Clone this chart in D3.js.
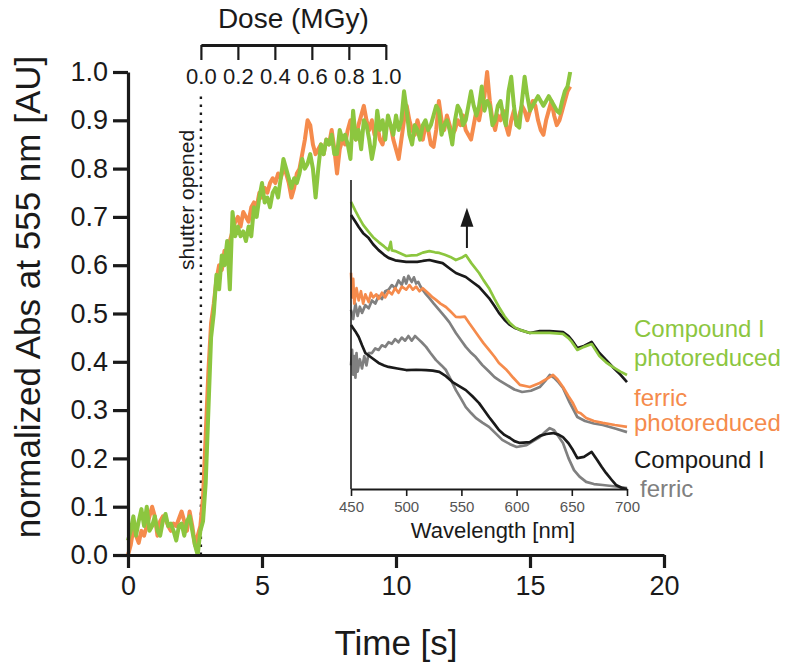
<!DOCTYPE html>
<html><head><meta charset="utf-8">
<script src="https://cdn.jsdelivr.net/npm/d3@7"></script>
<style>
html,body{margin:0;padding:0;background:#fff;}
svg{display:block;font-family:"Liberation Sans",Arial,Helvetica,sans-serif;}
</style></head>
<body><svg id="chart" width="798" height="671"></svg>
<script>
// ---------------- DATA ----------------
// Main kinetic traces: normalized Abs at 555 nm, sampled every SAMPLE_DT seconds starting at 0 s
const SAMPLE_DT = 0.1;
const ferricPhotoreduced = [
0.00,0.02,0.055,0.04,0.025,0.05,0.04,0.06,0.08,0.10,
0.08,0.04,0.07,0.08,0.075,0.06,0.05,0.065,0.06,0.075,
0.09,0.07,0.05,0.09,0.06,0.02,0.04,0.06,0.12,0.25,
0.38,0.48,0.52,0.57,0.60,0.59,0.63,0.62,0.65,0.67,
0.69,0.70,0.68,0.71,0.70,0.69,0.72,0.73,0.72,0.75,
0.74,0.76,0.75,0.77,0.78,0.77,0.79,0.78,0.80,0.79,
0.77,0.74,0.76,0.79,0.80,0.83,0.86,0.90,0.89,0.85,
0.83,0.84,0.85,0.83,0.86,0.85,0.88,0.84,0.79,0.84,
0.86,0.85,0.88,0.90,0.87,0.86,0.89,0.91,0.93,0.90,
0.88,0.90,0.87,0.89,0.86,0.85,0.88,0.90,0.89,0.86,
0.84,0.82,0.86,0.90,0.93,0.90,0.88,0.87,0.90,0.88,
0.86,0.89,0.88,0.85,0.845,0.88,0.94,0.90,0.88,0.91,
0.89,0.87,0.88,0.90,0.89,0.91,0.88,0.87,0.86,0.89,
0.92,0.90,0.93,0.95,1.00,0.94,0.90,0.88,0.91,0.90,
0.92,0.89,0.87,0.90,0.92,0.89,0.91,0.93,0.92,0.90,
0.92,0.94,0.93,0.90,0.88,0.87,0.90,0.92,0.94,0.91,
0.89,0.90,0.92,0.94,0.96,0.97];
const compoundIPhotoreduced = [
0.03,0.05,0.08,0.04,0.07,0.095,0.06,0.10,0.05,0.06,
0.08,0.05,0.04,0.07,0.085,0.06,0.065,0.05,0.03,0.06,
0.065,0.04,0.07,0.08,0.05,0.02,0.00,0.05,0.07,0.15,
0.30,0.45,0.50,0.58,0.55,0.62,0.60,0.65,0.55,0.71,
0.66,0.68,0.66,0.67,0.65,0.68,0.66,0.72,0.70,0.74,
0.77,0.73,0.74,0.72,0.75,0.76,0.74,0.78,0.82,0.80,
0.78,0.76,0.78,0.77,0.79,0.82,0.80,0.81,0.83,0.80,
0.74,0.80,0.85,0.83,0.86,0.85,0.87,0.83,0.83,0.88,
0.86,0.87,0.85,0.82,0.92,0.86,0.88,0.84,0.90,0.89,
0.86,0.82,0.85,0.92,0.88,0.90,0.86,0.91,0.89,0.87,
0.91,0.88,0.90,0.96,0.92,0.87,0.85,0.89,0.88,0.86,
0.89,0.90,0.88,0.89,0.91,0.93,0.92,0.87,0.89,0.90,
0.88,0.85,0.90,0.93,0.92,0.89,0.90,0.93,0.96,0.93,
0.91,0.93,0.97,0.92,0.94,0.93,0.89,0.90,0.93,0.94,
0.91,0.89,0.96,0.99,0.93,0.89,0.885,0.94,0.99,0.95,
0.92,0.93,0.94,0.95,0.94,0.93,0.94,0.95,0.94,0.93,
0.92,0.915,0.94,0.96,0.97,1.00];

const timeTicks = [0, 5, 10, 15, 20];
const absTicks = [0, 0.1, 0.2, 0.3, 0.4, 0.5, 0.6, 0.7, 0.8, 0.9, 1.0];
const doseTicks = [0, 0.2, 0.4, 0.6, 0.8, 1.0];
const shutterOpenTime = 2.72;   // s
const doseOneMGyTime = 9.62;    // s, time at which 1.0 MGy is reached

// Inset spectra: [wavelength nm, normalized absorbance (offset)]
const specCpdIPhotoreduced = [[450,.929],[454,.90],[457,.880],[461,.855],[466,.832],[470,.815],[475,.799],[480,.785],[484,.773],[486,.80],[487,.772],[490,.770],[495,.762],[500,.754],[505,.756],[510,.757],[515,.765],[521,.770],[526,.766],[530,.764],[535,.758],[540,.751],[545,.741],[550,.748],[554,.757],[559,.731],[566,.699],[570,.676],[575,.650],[580,.615],[584,.589],[589,.560],[594,.537],[598,.524],[603,.515],[612,.505],[621,.505],[630,.505],[642,.502],[647,.488],[650,.476],[655,.450],[661,.460],[668,.469],[675,.430],[681,.410],[687,.395],[694,.380],[700,.369]];
const specCpdITop = [[450,.887],[454,.865],[457,.848],[461,.828],[466,.812],[470,.792],[475,.773],[480,.758],[484,.748],[490,.740],[500,.735],[510,.735],[515,.738],[521,.741],[527,.736],[533,.731],[540,.712],[545,.699],[550,.692],[554,.686],[560,.670],[566,.654],[570,.638],[575,.618],[580,.592],[584,.570],[589,.548],[594,.531],[598,.522],[603,.515],[612,.505],[621,.511],[630,.511],[642,.508],[647,.495],[650,.482],[655,.456],[661,.463],[668,.476],[675,.440],[681,.418],[687,.395],[694,.370],[700,.346]];
const specFerricPhotoreduced = [[450,.70],[451,.62],[452,.68],[453,.60],[455,.65],[457,.61],[459,.64],[461,.60],[463,.63],[466,.605],[468,.635],[470,.62],[473,.63],[475,.615],[478,.635],[481,.62],[484,.64],[487,.63],[490,.65],[493,.635],[496,.655],[500,.645],[503,.66],[506,.645],[509,.655],[512,.64],[515,.65],[518,.64],[521,.63],[524,.62],[527,.612],[531,.60],[536,.589],[540,.575],[545,.557],[549,.556],[553,.558],[557,.537],[562,.512],[566,.492],[570,.472],[575,.45],[580,.428],[584,.408],[591,.385],[597,.36],[603,.337],[612,.33],[621,.343],[630,.362],[633,.369],[637,.355],[642,.33],[647,.30],[651,.278],[655,.249],[658,.245],[663,.23],[670,.22],[678,.214],[689,.207],[700,.201]];
const specFerricTop = [[450,.58],[452,.55],[454,.60],[456,.56],[458,.59],[460,.57],[463,.595],[466,.585],[469,.61],[472,.60],[475,.625],[478,.615],[481,.64],[484,.645],[487,.66],[490,.65],[493,.675],[496,.66],[498,.685],[500,.665],[502,.69],[505,.67],[507,.685],[509,.665],[511,.67],[513,.655],[515,.644],[518,.63],[521,.618],[525,.60],[530,.579],[535,.558],[539,.54],[545,.505],[550,.48],[554,.46],[559,.44],[563,.427],[569,.401],[575,.38],[580,.362],[585,.35],[591,.337],[598,.322],[605,.314],[613,.318],[621,.33],[626,.35],[630,.369],[634,.36],[638,.345],[642,.327],[648,.28],[655,.233],[662,.22],[670,.212],[678,.207],[690,.195],[700,.184]];
const specCpdI = [[450,.531],[454,.51],[457,.492],[460,.465],[463,.440],[469,.424],[475,.408],[480,.40],[484,.395],[492,.39],[500,.385],[509,.386],[518,.385],[524,.383],[530,.379],[536,.365],[542,.346],[548,.333],[554,.320],[560,.300],[566,.278],[570,.258],[575,.233],[580,.210],[584,.191],[589,.175],[594,.165],[598,.155],[603,.149],[612,.152],[621,.172],[627,.178],[633,.181],[638,.176],[642,.168],[647,.148],[651,.126],[655,.100],[661,.104],[668,.120],[673,.094],[677,.072],[681,.052],[686,.030],[690,.013],[695,.004],[700,.000]];
const specFerric = [[450,.40],[451,.45],[452,.37],[453,.43],[454,.36],[455,.44],[456,.38],[458,.42],[460,.39],[462,.43],[464,.40],[466,.44],[469,.44],[472,.455],[475,.45],[478,.465],[481,.46],[484,.475],[487,.47],[490,.485],[493,.475],[496,.49],[499,.48],[502,.495],[505,.48],[508,.495],[511,.485],[514,.475],[518,.46],[522,.44],[527,.417],[532,.40],[536,.385],[541,.35],[545,.32],[550,.29],[554,.265],[559,.245],[563,.23],[569,.215],[575,.201],[581,.18],[587,.159],[594,.145],[600,.136],[609,.142],[615,.155],[621,.168],[626,.185],[630,.197],[634,.19],[638,.17],[642,.149],[647,.10],[652,.061],[657,.04],[663,.023],[670,.016],[678,.013],[690,.008],[700,.003]];
const wavelengthTicks = [450, 500, 550, 600, 650, 700];
const arrowWavelength = 555, arrowFrom = 0.78, arrowTo = 0.91;

const legendItems = [
  {lines:["Compound I","photoreduced"], color:"#8cc63f"},
  {lines:["ferric","photoreduced"], color:"#f58b4c"},
  {lines:["Compound I"], color:"#1a1a1a"},
  {lines:["ferric"], color:"#808080"}
];

// ---------------- CHART ----------------
const ORANGE = "#f58b4c", GREEN = "#8cc63f", BLACK = "#1a1a1a", GRAY = "#808080";
const FONT = "Liberation Sans, Arial, sans-serif";
const svg = d3.select("#chart");

const x = d3.scaleLinear().domain([0, 20]).range([128, 664]);
const y = d3.scaleLinear().domain([0, 1]).range([555, 72]);
const dose = d3.scaleLinear().domain([0, 1]).range([x(shutterOpenTime), x(doseOneMGyTime)]);

// shutter line
svg.append("line")
  .attr("x1", x(shutterOpenTime)).attr("x2", x(shutterOpenTime))
  .attr("y1", y(0)).attr("y2", y(0.95))
  .attr("stroke", BLACK).attr("stroke-width", 2.4)
  .attr("stroke-dasharray", "2.4,5.6");
svg.append("text")
  .attr("transform", `translate(${x(shutterOpenTime) - 7},200) rotate(-90)`)
  .attr("text-anchor", "middle").attr("font-size", 21).attr("fill", BLACK)
  .text("shutter opened");

// main lines
const line = d3.line().x((d, i) => x(i * SAMPLE_DT)).y(d => y(d)).curve(d3.curveLinear);
svg.append("path").datum(ferricPhotoreduced).attr("d", line)
  .attr("fill", "none").attr("stroke", ORANGE).attr("stroke-width", 4).attr("stroke-linejoin", "round");
svg.append("path").datum(compoundIPhotoreduced).attr("d", line)
  .attr("fill", "none").attr("stroke", GREEN).attr("stroke-width", 4).attr("stroke-linejoin", "round");

// main axes
const yAxis = d3.axisLeft(y).tickValues(absTicks).tickFormat(d3.format(".1f"))
  .tickSize(15).tickSizeOuter(0).tickPadding(5);
const gy = svg.append("g").attr("transform", `translate(${x(0)},0)`).call(yAxis);
const xAxis = d3.axisBottom(x).tickValues(timeTicks).tickFormat(d3.format("d"))
  .tickSize(13).tickSizeOuter(0).tickPadding(8);
const gx = svg.append("g").attr("transform", `translate(0,${y(0)})`).call(xAxis);
[gx, gy].forEach(g => {
  g.select(".domain").attr("stroke", BLACK).attr("stroke-width", 3.2);
  g.selectAll(".tick line").attr("stroke", BLACK).attr("stroke-width", 3.2);
  g.selectAll(".tick text").attr("font-size", 27).attr("fill", BLACK).attr("font-family", FONT);
});

// dose axis
const doseAxis = d3.axisBottom(dose).tickValues(doseTicks).tickFormat(d3.format(".1f"))
  .tickSize(15).tickSizeOuter(0).tickPadding(8);
const gd = svg.append("g").attr("transform", "translate(0,45)").call(doseAxis);
gd.select(".domain").attr("stroke", BLACK).attr("stroke-width", 2.8);
gd.selectAll(".tick line").attr("stroke", BLACK).attr("stroke-width", 2.2);
gd.selectAll(".tick text").attr("font-size", 22).attr("fill", BLACK).attr("font-family", FONT);
svg.append("text").attr("x", (dose(0) + dose(1)) / 2).attr("y", 28)
  .attr("text-anchor", "middle").attr("font-size", 28).attr("fill", BLACK)
  .text("Dose (MGy)");

// axis titles
svg.append("text").attr("x", (x(0) + x(20)) / 2).attr("y", 655)
  .attr("text-anchor", "middle").attr("font-size", 35).attr("fill", BLACK)
  .text("Time [s]");
svg.append("text")
  .attr("transform", `translate(40,297) rotate(-90)`)
  .attr("text-anchor", "middle").attr("font-size", 35).attr("fill", BLACK)
  .text("normalized Abs at 555 nm [AU]");

// ---------------- INSET ----------------
const xi = d3.scaleLinear().domain([450, 700]).range([351, 627]);
const yi = d3.scaleLinear().domain([0, 1]).range([489, 180]);
const sline = d3.line().x(d => xi(d[0])).y(d => yi(d[1]));
const spectra = [
  [specFerricTop, GRAY], [specFerricPhotoreduced, ORANGE],
  [specCpdITop, BLACK], [specCpdIPhotoreduced, GREEN],
  [specFerric, GRAY], [specCpdI, BLACK]
];
spectra.forEach(([data, c]) => {
  svg.append("path").datum(data).attr("d", sline)
    .attr("fill", "none").attr("stroke", c).attr("stroke-width", 2.7)
    .attr("stroke-linejoin", "round");
});
// inset axes
svg.append("line").attr("x1", xi(450)).attr("x2", xi(450))
  .attr("y1", yi(0)).attr("y2", yi(1)).attr("stroke", BLACK).attr("stroke-width", 1.6);
const xiAxis = d3.axisBottom(xi).tickValues(wavelengthTicks).tickFormat(d3.format("d"))
  .tickSize(7).tickSizeOuter(0).tickPadding(5);
const gxi = svg.append("g").attr("transform", `translate(0,${yi(0)})`).call(xiAxis);
gxi.select(".domain").attr("stroke", BLACK).attr("stroke-width", 1.8);
gxi.selectAll(".tick line").attr("stroke", BLACK).attr("stroke-width", 1.6);
gxi.selectAll(".tick text").attr("font-size", 15).attr("fill", "#555").attr("font-family", FONT);
svg.append("text").attr("x", (xi(450) + xi(700)) / 2 + 4).attr("y", 538)
  .attr("text-anchor", "middle").attr("font-size", 22).attr("fill", BLACK)
  .text("Wavelength [nm]");

// arrow
const ax = xi(arrowWavelength);
svg.append("line").attr("x1", ax).attr("x2", ax)
  .attr("y1", yi(arrowFrom)).attr("y2", yi(arrowTo) + 14)
  .attr("stroke", BLACK).attr("stroke-width", 2);
svg.append("path")
  .attr("d", `M${ax},${yi(arrowTo)} L${ax - 6.5},${yi(arrowTo) + 19} L${ax + 6.5},${yi(arrowTo) + 19} Z`)
  .attr("fill", BLACK);

// legend labels
const legendY = [[337, 366], [406, 431], [468], [497]];
legendItems.forEach((item, k) => {
  item.lines.forEach((t, j) => {
    svg.append("text").attr("x", k === 3 ? 640 : 634).attr("y", legendY[k][j])
      .attr("font-size", 24).attr("fill", item.color).text(t);
  });
});
</script></body></html>
